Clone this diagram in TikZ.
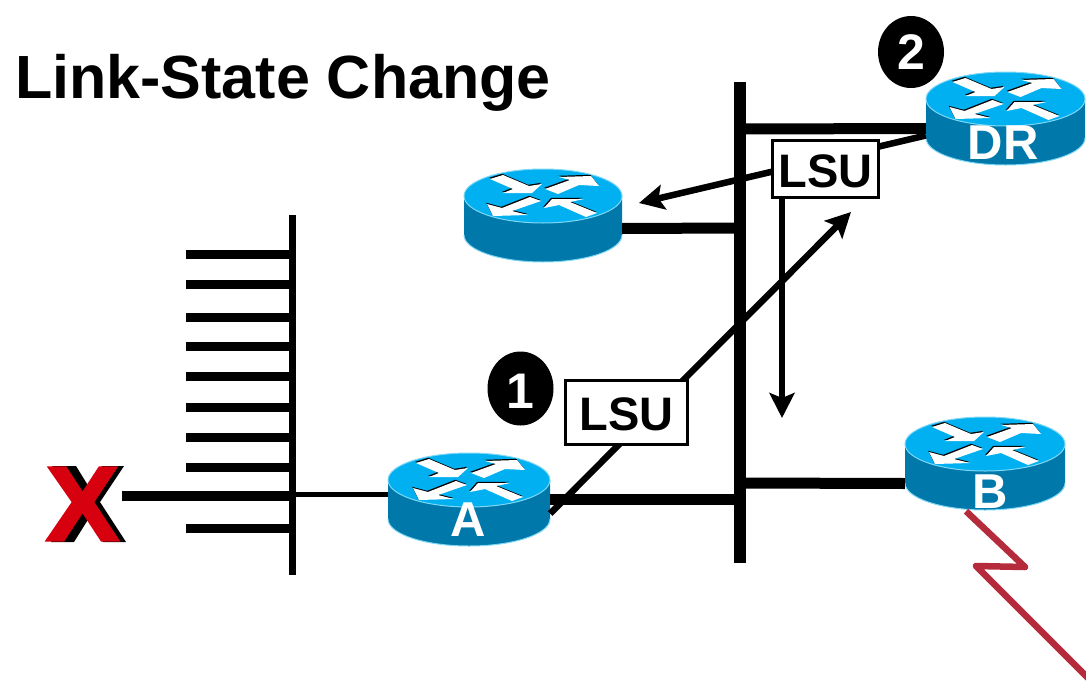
\documentclass[tikz,border=0pt]{standalone}
\usepackage{fontspec}
\setmainfont{Liberation Sans}
\newfontfamily\xfont[FakeBold=2]{Liberation Sans Bold}
\usetikzlibrary{arrows.meta,positioning,shapes.geometric}
\definecolor{rtrtop}{RGB}{0,176,240}
\definecolor{rtrbody}{RGB}{0,120,170}
\definecolor{rtredge}{RGB}{125,215,245}
\definecolor{xred}{RGB}{215,0,15}
\definecolor{serialred}{RGB}{181,43,59}
\tikzset{
  rtrbox/.style={minimum height=93pt,inner sep=0pt},
  rtrlabel/.style={text=white,inner sep=0pt,font=\fontsize{49}{49}\selectfont\bfseries},
  lsubox/.style={draw=black,line width=3pt,fill=white,inner sep=0pt,text height=38pt,font=\fontsize{47}{47}\selectfont\bfseries},
  stepnum/.style={ellipse,fill=black,text=white,inner sep=0pt,minimum width=66pt,minimum height=74pt,font=\fontsize{50}{50}\selectfont\bfseries},
  flow/.style={line width=6.5pt,-{Stealth[length=25pt,width=25pt,inset=5pt]}},
  lan/.style={line width=11pt},
  stub/.style={line width=9pt},
}
% one router: name, x, y of the top face centre, half width
\newcommand{\rtr}[4]{
\begin{scope}[shift={(#2,#3)}]
\fill[rtrbody] (-#4,0) -- (-#4,39) arc[start angle=180,end angle=360,x radius=#4,y radius=-27] -- (#4,0) -- cycle;
\draw[rtredge,line width=1pt] (-#4,39) arc[start angle=180,end angle=360,x radius=#4,y radius=-27];
\fill[rtrtop] (0,0) circle[x radius=#4,y radius=27];
\draw[rtredge,line width=1pt] (0,0) circle[x radius=#4,y radius=27];
\foreach \col/\dx/\dy in {black/-0.8/-1.2,white/0/0}{
\fill[\col,shift={(\dx,\dy)}] (-53,-17) -- (-40,-21) -- (-14,-10) -- (-1,-12) -- (-11,-3) -- (-40,-3) -- (-30,-7) -- cycle;
\fill[\col,shift={(\dx,\dy)}] (2,-7) -- (15,-2) -- (36,-11) -- (56,-10) -- (48,-20) -- (16,-19) -- (27,-16) -- cycle;
\fill[\col,shift={(\dx,\dy)}] (-56,8) -- (-50,20) -- (-15,19) -- (-31,15) -- (-2,5) -- (-13,1) -- (-41,12) -- cycle;
\fill[\col,shift={(\dx,\dy)}] (1,12) -- (9,3) -- (41,3) -- (27,6) -- (54,17) -- (43,21) -- (16,9) -- cycle;
}
\node[rtrbox,minimum width=#4*2pt] (#1) at (0,19.5) {};
\end{scope}
}
\begin{document}
\begin{tikzpicture}[x=1pt,y=-1pt,>=Latex]
\useasboundingbox (0,0) rectangle (1086,688);
\node[anchor=west,inner sep=0pt,font=\fontsize{61}{61}\selectfont\bfseries] (title) at (15,83) {Link-State Change};

\coordinate (barLtop) at (292,215);
\coordinate (barLend) at (292,575);
\coordinate (barRtop) at (740,82);
\coordinate (barRend) at (740,563);
\coordinate (xwire) at (122,496);

\foreach \y in {254,284,317,346,376,407,437,467,528}
  \draw[stub] (186,\y) -- (292,\y);

\fill[black,shift={(6,0)}] (46,466) -- (70,466) -- (83,487) -- (96,466) -- (118,466) -- (94,502) -- (120,542) -- (97,542) -- (83,518) -- (68,542) -- (45,542) -- (71,502) -- cycle;
\node[font=\fontsize{106}{106}\xfont,xscale=1.04,inner sep=0pt,text=xred] (xmark) at (82.5,504) {X};

\rtr{rtrA}{469}{480}{81}
\rtr{rtrM}{543}{196}{79}
\rtr{rtrDR}{1005.5}{99}{79.5}
\rtr{rtrB}{985}{444}{80}

\node[rtrlabel] (lblA) at (468,520) {A};
\node[rtrlabel] (lblDR) at (1003,143) {DR};
\node[rtrlabel] (lblB) at (990,492) {B};

\draw[line width=7pt] (barLtop) -- (barLend);
\draw[line width=12pt] (barRtop) -- (barRend);
\draw[line width=9.5pt] (xwire) -- (barLtop |- xwire);
\draw[line width=5pt] (barLtop |- 0,494) -- (rtrA.west |- 0,494);
\draw[lan] (rtrA.east) -- (barRend |- rtrA.east);
\draw[lan] ([yshift=-13pt]rtrM.east) -- (barRtop |- 0,228);
\draw[lan] (barRtop |- 0,129) -- ([yshift=-10pt]rtrDR.west);
\draw[lan] (barRtop |- 0,483) -- ([yshift=-20pt]rtrB.west);

\coordinate (tipM) at (639,203);
\coordinate (tipDown) at (782,418);
\coordinate (tipUp) at (851,212);
\coordinate (zig1) at (1025,567);
\coordinate (zig2) at (976,566);
\coordinate (zigEnd) at (1090,680);

\draw[flow] ([yshift=-17pt]rtrDR.west) -- (tipM);
\draw[flow] ([yshift=-14pt]rtrA.east) -- (tipUp);
\draw[serialred,line width=6.5pt,line join=round] ([xshift=-19pt,yshift=-1pt]rtrB.south) -- (zig1) -- (zig2) -- (zigEnd);

\node[lsubox,minimum width=106pt,minimum height=57pt] (lsuTop) at (825.5,168.5) {LSU};
\node[lsubox,minimum width=122pt,minimum height=64pt] (lsuLow) at (626.5,412) {LSU};
\draw[flow] (lsuTop.south -| tipDown) -- (tipDown);

\node[stepnum,text height=40pt] (numOne) at (520.5,388.5) {1};
\node[stepnum,minimum height=72pt] (numTwo) at (911,52) {2};
\end{tikzpicture}
\end{document}
